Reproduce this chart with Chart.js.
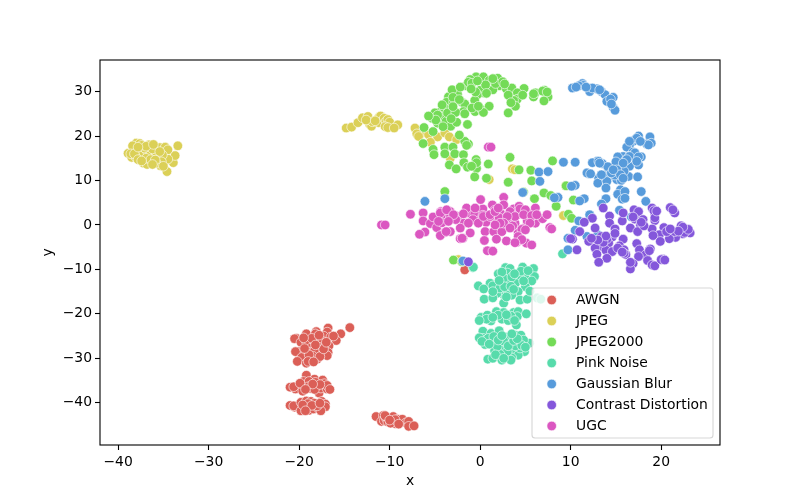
<!DOCTYPE html>
<html><head><meta charset="utf-8">
<script src="https://cdn.jsdelivr.net/npm/chart.js@4"></script>
<style>html,body{margin:0;padding:0;background:#fff}canvas{display:block}</style>
</head><body><canvas id="c" width="800" height="500"></canvas>
<script>
const labels = ["AWGN","JPEG","JPEG2000","Pink Noise","Gaussian Blur","Contrast Distortion","UGC"];
const colors = ["#db5f57","#dbd057","#74db57","#57dbab","#579bdb","#8457db","#db57c1"];
const xTicks = [-40,-30,-20,-10,0,10,20];
const yTicks = [-40,-30,-20,-10,0,10,20,30];

const awgn = [[-14.4,-23.1],[-15.4,-24.5],[-16.8,-23.2],[-16.9,-24.1],[-18.1,-24],[-19.2,-24.5],[-20.3,-25.5],[-20.5,-25.6],[-19.8,-26.4],[-19.2,-26.2],[-18.2,-24.5],[-17.3,-25],[-16.5,-25.2],[-15.9,-26],[-18.1,-26],[-17.4,-26.2],[-16.7,-27.2],[-18.7,-27.7],[-17.8,-27.5],[-16.8,-28.7],[-20,-28.5],[-20.4,-28.5],[-18.8,-28.6],[-18.3,-28.4],[-17.4,-29.2],[-16.9,-29.4],[-19.7,-29.8],[-18.8,-30.2],[-18,-30.2],[-20.2,-30.7],[-19.2,-31.1],[-18.5,-29.5],[-17.7,-29.6],[-18.9,-29.2],[-19.4,-27.8],[-18.6,-25.5],[-19.5,-25.4],[-17.8,-24.8],[-17.3,-27.9],[-18.2,-27],[-16.2,-25],[-17,-26.4],[-19,-30.7],[-18.4,-30.8],
[-19.2,-33.8],[-18.3,-34.7],[-17.4,-34.9],[-19.5,-35.2],[-18.9,-35.2],[-18.2,-35.4],[-17.2,-35.7],[-21,-36.5],[-20.4,-36.9],[-20.6,-36.4],[-19.6,-37.4],[-18.7,-36.8],[-18.1,-36.6],[-17.8,-37.8],[-17.6,-36.7],[-16.9,-36.9],[-16.9,-36.1],[-19,-36.4],[-18.3,-37],[-19.9,-35.6],[-17.7,-35.9],[-18.5,-35.8],[-19.3,-37],[-16.6,-37],
[-21,-40.6],[-20.5,-41],[-20.6,-40.7],[-19.8,-39.9],[-19.2,-39.6],[-18.7,-39.7],[-18.3,-40.1],[-17.5,-39.7],[-17.1,-40.3],[-17.1,-40.9],[-19.8,-41.8],[-19.2,-41],[-18.9,-41.7],[-18.4,-41.4],[-17.9,-41.2],[-17.6,-41.8],[-19,-40.2],[-18,-40.7],[-19.6,-40.5],[-18.6,-40.6],[-17.7,-40.1],[-19.3,-41.8],
[-11.5,-43.1],[-10.7,-42.9],[-10.9,-44.2],[-10.6,-44],[-10.4,-43.4],[-10.2,-44.3],[-10.2,-43.3],[-9.8,-43.7],[-9.6,-44.2],[-9.6,-43.1],[-9.4,-44.7],[-9.9,-44.6],[-9.1,-43.7],[-8.8,-44.4],[-8.6,-43.7],[-8.2,-44.5],[-7.9,-44.2],[-7.9,-45.3],[-7.3,-45.2],[-9.4,-43.8],[-10.5,-42.9],[-10,-43.9],[-9,-44.8],[-1.7,-10.1]];

const jpeg = [[-33.4,17.8],[-34.6,12],[-33.9,14],[-33.7,15.6],[-34.9,14.1],[-34.5,14.8],[-35.4,17.4],[-34.8,17.5],[-34.5,16.9],[-36.5,17.4],[-36.1,14.1],[-37.4,15.2],[-38,18.4],[-37.6,18.3],[-38.9,16.1],[-37.2,13.9],[-38.5,15.2],[-38.3,16.5],[-38.1,17],[-38.4,17.8],[-37.9,15.8],[-37.3,16.6],[-36.8,16.2],[-36.4,15.9],[-35.8,15.6],[-35.5,15.1],[-35.1,15.7],[-36.5,14.2],[-35.3,13.3],[-35.2,14.2],[-35.8,13.9],[-36.8,13.6],[-36.6,18],[-37.1,17.3],[-35.9,16.6],[-37.7,15.6],[-38.1,15.4],[-36.2,17.1],[-35.4,16.5],[-38.6,16],[-38.2,16],[-37.4,17.9],[-36.9,17.7],[-36.9,15],[-36.4,14.7],[-35.9,14.6],[-37.8,14.7],[-37.4,14.4],[-35,13.2],[-36.1,18.1],[-37.8,17.5],[-36.2,13.6],
[-14.8,21.8],[-14.2,22],[-13.5,23],[-13,24.1],[-12.4,24.4],[-12.2,22.6],[-12,22.2],[-11.9,23.2],[-11.2,24.2],[-11,24.5],[-11.2,23],[-10.6,24],[-10.4,23.3],[-10.2,23.7],[-10,23.1],[-10.5,22.1],[-10.2,21.9],[-9.1,22.5],[-9.5,21.8],[-12.6,23.6],[-11.6,23.4],
[-7.2,21.8],[-6.6,20.5],[-5.7,20.3],[-7,20.5],[-6.8,19.9],[-4.7,19.8],[-3.9,20.7],[-3.4,19.8],[-2.6,19.2],[-5.5,18.6],[-3.3,15],[3.56,12.6],[3.85,12.4],[1,10.2],[9.45,8.8],[9.2,2.1],[-2.4,-7.8]];

const jpeg2000 = [[-0.45,33.3],[0.36,33.3],[1.94,33],[1,32.5],[-1.1,32.7],[-1.55,31.3],[-1.3,32.1],[2.1,31.3],[2.9,30.6],[3.5,30.8],[4.85,30.7],[4.1,29.7],[1.4,30.4],[0.36,29.7],[0,30.3],[-0.3,29.3],[-2.5,29.4],[-3.5,28.8],[-3.7,27.6],[-2.95,27.6],[-2,27.6],[-1.7,27.2],[-0.6,28],[4.1,28.3],[3.7,28],[3.9,26.7],[-0.56,25.5],[0.2,25.9],[1,26.7],[0.36,25.3],[3.1,25.2],[7.1,30.3],[5.9,28.8],[6.1,29.7],[7.5,28.8],[7.05,27.9],[6.9,30.1],[-3.25,25.8],[-4.35,25.5],[-5,25.2],[-5.3,24],[-4.2,24.4],[-4.7,22.9],[-3.76,23.3],[-3.25,22.2],[-2.6,23.1],[-1.85,25.5],[-6.2,21.9],[-5.2,21],[-6.3,18.3],[-5.2,17],[-5.1,15.8],[-3.9,17.5],[-3,17.5],[-3.9,16],[-2.8,16],[-1.85,15.8],[-1.3,18.2],[-1.7,18.8],[-2.3,20.2],[-3.4,13.5],[-2.65,12.6],[-1.8,14],[-1.4,13],[-0.45,14.7],[-0.4,12.7],[0.9,13.7],[-0.6,10.8],[0.7,10.5],[3.1,9.6],[3.3,15.2],[4.3,12.4],[5.6,12.3],[5.7,9.9],[8,14.4],[7.05,7.2],[6,5.9],[7.8,6.6],[8.4,4.2],[10.3,5.6],[9.75,2.4],[10.1,1.5],[-3.9,7.5],[-2.95,-7.9],[-2,-8.3],[4.8,7.4],[9.5,8.8],[-3.1,30.4],[-2.2,31],[0.6,31.5],[1.7,31.8],[2.5,32.2],[-4,26.4],[-4.7,24.7],[-3.6,25.2],[3.1,29.2],[-0.5,29.9],[-2.7,25.3],[-0.9,26.3],[-0.2,26.7],[-1.5,17.9],[-0.4,14],[-0.95,13.2],[-0.9,31.9],[-0.3,32.4],[1.4,32.9],[2.7,31.7],[-1,30.6],[-3,28.7],[-2.3,28.2],[-4.2,27],[-3,26.6],[-4.9,23.6],[-3.2,23.9],[-1.4,22.6],[-5.7,24.5],[-4.1,22.1],[4.7,29.2],[3.4,27.5],[0.7,29.6],[-1.7,25],[5.9,29.5],[7.4,29.9]];

const pink = [[-0.8,-9.6],[9.1,-6.5],[-0.75,-9.5],[2.8,-9.6],[3.3,-9.8],[4.7,-9.5],[5.9,-9.8],[5,-11.3],[6,-11.6],[5.7,-12.6],[4.4,-11.9],[2,-11],[1.1,-13.1],[-0.2,-13.7],[0.4,-14.4],[1.4,-13.7],[3.1,-12.8],[2.4,-13.1],[3.9,-13.1],[5,-13.9],[4.2,-15],[2.65,-15.8],[1.85,-15.4],[3.5,-15.8],[0.45,-16.7],[1.4,-16.4],[2.6,-17.6],[4.4,-16.9],[5.2,-16.7],[5.5,-14.9],[6.3,-16.4],[6.7,-16.7],[3,-10.8],[2.6,-12],[3.5,-11.7],[2.2,-14.2],[3,-14.6],[2.7,-13.9],[3.4,-13.8],[4.5,-10.4],[5.3,-10.3],[2.4,-10.6],[3.8,-11],[4.8,-12.6],[2.1,-12.5],[3.7,-14.5],[2.9,-16.2],[1.4,-15],
[0.1,-20.8],[0.8,-20.3],[1.8,-19.5],[2.6,-19.7],[1.2,-21.6],[2.4,-21.2],[3.1,-21.5],[3.7,-19.7],[4.2,-19.5],[4.1,-20.6],[4,-22.5],[5.1,-20],[0.7,-21.2],[2,-20.3],[3.4,-20.5],[-0.1,-21.5],[1.4,-20.8],[2.9,-20.2],[3.8,-21.5],
[0.3,-23.9],[0.3,-25.5],[0.55,-26.9],[1.2,-24.4],[2.1,-23.8],[1.4,-26.3],[2.2,-26.6],[1.6,-28.3],[0.85,-30.2],[1.4,-30],[2.4,-30.4],[2.95,-29.4],[3.6,-28.1],[3.3,-26.4],[3.9,-24.8],[4.5,-24.8],[4.2,-26.4],[5.45,-26.6],[4.9,-28.5],[4.2,-29.3],[3.5,-29.9],[2.6,-27.8],[-0.1,-25.4],[0.9,-25.5],[1.5,-25.1],[2.8,-25.2],[3,-28.5],[2.2,-29.1],[4.4,-27.7],[3.9,-27.2],[1.9,-27.3],[4.8,-25.9],[3.4,-30.4],[1.7,-29.2],[2.6,-26.1],[3.1,-27.2],[2,-25.9],[3.7,-26],[4.6,-27.1],[5,-27.5],[2.6,-30],[0.2,-26.2],[1,-26.8],[4.1,-25.6],[3.5,-24.5],[2.4,-24.9]];

const blur = [[11.3,31.8],[10.2,30.8],[11.4,31.4],[10.9,31.3],[12.1,30],[12.9,30.6],[12.4,30.8],[13.4,30],[13.8,29.3],[14.7,28.7],[14,27.8],[14.7,26.4],[14.9,25.8],[14.4,28.3],[14.5,27.2],[11.7,31],[13.2,30.4],[10.6,31],
[17.5,20],[17.1,19.2],[18.76,19.8],[18.9,18.4],[18.4,18.2],[16.9,18.8],[16.5,18],[16.2,17.5],[16.9,16.4],[17.8,15.3],[17.5,13.5],[15.8,15.4],[15.2,15.3],[15.5,13.5],[14.7,12.9],[16.5,13.2],[14.2,12.5],[13.5,13.8],[12.9,14.3],[12.4,14],[12,11.5],[15.2,12],[16.4,10.9],[17.4,10.8],[14.3,10.9],[13.7,11],[13.1,10.5],[13,9.4],[14,9.8],[15.1,10.2],[15.6,10],[13.9,8.3],[15.5,7.9],[15.2,6.9],[16,7.5],[17.8,7.5],[15.7,5.8],[13.9,5.9],[18.3,5.3],[9.2,14.1],[10.5,14.1],[6.5,11.9],[7.5,12],[6.6,9.8],[10.5,8.9],[10.1,8.7],[4.7,7.3],[8.6,6.2],[11.5,5.9],[11,5.4],[-3.9,5.9],[-6.1,5.3],[13.4,4.7],[15.4,3.3],[12.1,2.3],[10.9,0.9],[10.5,-1.2],[11.8,-2.6],[9.7,-3],[9.7,-5.6],[13,-2.2],[16.7,1.8],[15,14.2],[16.1,14.6],[17.3,14.9],[14.9,11.2],[15.9,12.1],[14.1,13.1],[16.5,15.4],[8.2,6.1],[-1.9,-8.1],[17.3,19.5],[16.5,18.8],[18.6,18],[17.7,18.8],[17.1,16.2],[16.5,15.4],[17.5,15.3],[17.3,14.3],[16.2,14.7],[15.8,13.9],[15.1,12.4],[14.5,11.7],[13.4,11.3],[15.5,11.3],[15.8,10.5],[14.7,12.4],[13.1,14.3],[13.2,13.9],[11.8,11.7],[12.2,11.5],[16,6]];

const contrast = [[13.6,3.8],[14.3,2],[12.4,1.5],[11.5,0.6],[12.7,-0.7],[14.3,0.4],[14.9,-0.9],[15.7,0.9],[15.8,2.7],[17,3.4],[17.5,3],[17.1,1.3],[18,1.2],[19.3,1],[19.3,2.5],[19,3.8],[19.2,3.2],[21,3.9],[21.5,2.7],[21.3,3.4],[17.7,0],[16.6,-0.7],[17.4,-1.5],[19,-0.9],[20.3,-0.6],[22.2,-0.2],[23.2,-1.8],[22.4,-2],[21.6,-2.8],[20.9,-3.1],[19.8,-2.2],[19.1,-2.4],[19.9,-3.7],[21.5,-1.5],[20.6,-1.5],[11,-1.5],[10.2,-3.2],[10.7,-5.6],[12,-3.7],[13.4,-2.6],[14.6,-2.7],[14.2,-4.1],[15.8,-3.2],[15.4,-4.7],[13.2,-4.8],[12.7,-5.2],[12.9,-6.6],[13.9,-5.7],[14.6,-6],[15.9,-5.6],[16.1,-6.7],[17.3,-4.2],[17.6,-5.6],[18.8,-5.4],[18.3,-6.7],[17.5,-7.1],[14,-7.5],[13.1,-8.4],[18.5,-8],[19,-9],[20.2,-7.7],[16.9,-8.7],[16.6,-9.9],[-1.3,-8.3],[15.9,-6.4],[14,-3.2],[13.6,-3.9],[18.1,-0.2],[13.9,-2.5],[15.2,-5.2],[19.3,-9.2],[20,-7.8],[10,-3.1],[22.6,-1.7],[23,-1],[17.8,0.6],[19.3,1.6],[19.5,3.1],[16.9,1.8],[22.4,-0.5],[21.9,-1.4],[21,-0.9],[13,-3.4],[12.3,-3],[18.7,-5.8],[15.7,-6.1],[16.6,-8.4],[20.4,-7.9],[14.9,-1.9]];

const ugc = [[0.9,17.5],[1.2,17.5],[-10.9,0],[-10.5,0],[-7.7,2.4],[-6.3,2.7],[-6.3,0.9],[-5.5,0.3],[-4.8,-0.6],[-5.2,1.8],[-4.35,3],[-3.3,3],[-4.05,1.9],[-3.3,1.8],[-2.4,1.9],[-1.8,0.4],[-2.2,-0.7],[-1.3,2.7],[-1.5,3.8],[-0.6,2.4],[0.3,3.6],[0.05,5.7],[2.6,6.2],[1.35,4.5],[2.6,4.5],[0.65,0.6],[0.55,-1.5],[1.5,-1.5],[2.4,-1.5],[1.8,1.2],[2.3,2.5],[3.1,0.4],[3.85,0.4],[3.7,3.6],[4.3,4.2],[4.15,2.3],[5.25,2.8],[6.1,3.8],[6.1,0.4],[6.9,1.4],[7.4,2.3],[7.7,-0.6],[4.9,-0.7],[4.2,-1.8],[4.04,-3.9],[5.1,-4.1],[5.7,-4.5],[2.9,-3.6],[1.8,-3.2],[0.47,-3.5],[-2.2,-3.1],[-1.1,-1.8],[-3.9,-1.7],[-4.4,-2.4],[-6.1,-1.6],[-6.7,-2.1],[0.8,-5.8],[-3.3,-1.5],[-4.2,0.5],[1.1,1.9],[3,2],[2.6,0.8],[3.6,-0.2],[-0.2,0.9],[-1.9,-3],[4.6,-1],[4.5,-3.4],[5.2,0.9],[5.7,1.9],[-0.8,1.2],[-2.7,1.2],[1.6,3.3],[4.4,3.6],[0.3,2.2],[2.1,1.6],[5,3.4],[1.4,-5.9],[-4.4,2.7],[-3.7,3.4],[-2.95,2.3],[-3.5,0.8],[-4.6,0.8],[-1.85,2.5],[-1.3,0.4],[-0.2,0.4],[0.36,1.9],[1.1,2.3],[1.65,3],[2,3.8],[3.3,3],[3.85,1.9],[3,1.9],[2.6,0.4],[3.3,-0.7],[2.2,0.4],[1.65,0],[4.8,2.3],[5.7,2.1],[6.25,2.3],[5.5,0.4],[4.2,-2.6],[4.6,-3.3],[3.85,-4],[5,-1.1],[-0.56,3.8],[-2,-3],[-3.75,-1.5],[7.9,-0.9]];

const sets = [awgn,jpeg,jpeg2000,pink,blur,contrast,ugc];
const datasets = sets.map((pts,i)=>({
  label: labels[i],
  data: pts.map(p=>({x:p[0],y:p[1]})),
  backgroundColor: colors[i],
  borderColor: "#ffffff",
  borderWidth: 0.6,
  pointRadius: 4.8,
  order: -i
}));
const font = {family:"'DejaVu Sans'",size:13.9};

const frame = {
  id:"frame",
  afterDatasetsDraw(chart){
    const {ctx,chartArea:a} = chart;
    ctx.save();
    ctx.strokeStyle="#000"; ctx.lineWidth=1.1;
    ctx.strokeRect(a.left,a.top,a.right-a.left,a.bottom-a.top);
    const lx=532,ly=288,lw=181,lh=150;
    ctx.fillStyle="rgba(255,255,255,0.8)";
    ctx.strokeStyle="rgba(204,204,204,0.8)"; ctx.lineWidth=1.1;
    ctx.beginPath(); ctx.roundRect(lx,ly,lw,lh,3); ctx.fill(); ctx.stroke();
    ctx.font="13.9px 'DejaVu Sans'"; ctx.textBaseline="middle"; ctx.textAlign="left";
    labels.forEach((t,i)=>{
      const y=300+i*21;
      ctx.beginPath(); ctx.arc(551.7,y,4.8,0,Math.PI*2);
      ctx.fillStyle=colors[i]; ctx.fill();
      ctx.strokeStyle="#fff"; ctx.lineWidth=0.6; ctx.stroke();
      ctx.fillStyle="#000"; ctx.fillText(t,576,y);
    });
    ctx.restore();
  }
};
const minus = v => String(v).replace("-","\u2212");
new Chart(document.getElementById("c"),{
  type:"scatter",
  data:{datasets},
  plugins:[frame],
  options:{
    responsive:false,animation:false,devicePixelRatio:1,
    layout:{padding:{top:60,right:80,left:0,bottom:0}},
    plugins:{legend:{display:false},tooltip:{enabled:false}},
    scales:{
      x:{type:"linear",min:-42,max:26.5,
        afterBuildTicks:s=>{s.ticks=xTicks.map(v=>({value:v}))},
        afterFit:s=>{s.height=55},
        grid:{drawOnChartArea:false,tickLength:5,tickColor:"#000",tickWidth:1.1},
        border:{display:false},
        ticks:{color:"#000",font,padding:4,maxRotation:0,callback:minus},
        title:{display:true,text:"x",color:"#000",font,padding:{top:0,bottom:10.5}}},
      y:{type:"linear",min:-49.5,max:37.1,
        afterBuildTicks:s=>{s.ticks=yTicks.map(v=>({value:v}))},
        afterFit:s=>{s.width=100},
        grid:{drawOnChartArea:false,tickLength:5,tickColor:"#000",tickWidth:1.1},
        border:{display:false},
        ticks:{color:"#000",font,padding:3,callback:minus},
        title:{display:true,text:"y",color:"#000",font,padding:{top:40,bottom:0}}}
    }
  }
});
</script></body></html>
